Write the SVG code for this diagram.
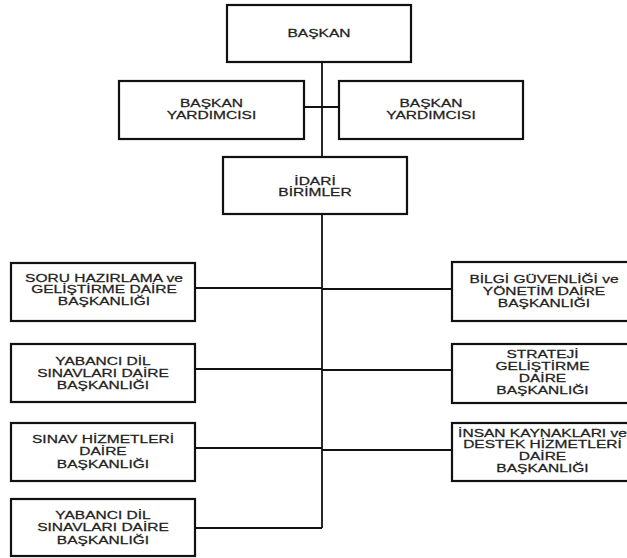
<svg xmlns="http://www.w3.org/2000/svg" width="627" height="558" viewBox="0 0 627 558">
<style>
.box{fill:#fff;stroke:#111;stroke-width:2.2}
.lbl{font-family:"Liberation Sans",Arial,sans-serif;font-size:11.5px;fill:#222;stroke:#222;stroke-width:0.25;text-anchor:middle}
.con{stroke:#111;stroke-width:1.8;fill:none}
</style>
<rect width="627" height="558" fill="#fff"/>
<g id="connectors">
<line class="con" x1="322" y1="62" x2="322" y2="528"/>
<line class="con" x1="304" y1="107" x2="339" y2="107"/>
<line class="con" x1="195" y1="288" x2="322" y2="288"/>
<line class="con" x1="195" y1="369" x2="322" y2="369"/>
<line class="con" x1="195" y1="448" x2="322" y2="448"/>
<line class="con" x1="195" y1="528" x2="322" y2="528"/>
<line class="con" x1="322" y1="289" x2="452" y2="289"/>
<line class="con" x1="322" y1="370" x2="452" y2="370"/>
<line class="con" x1="322" y1="450" x2="452" y2="450"/>
</g>
<g id="baskan">
<rect class="box" x="227" y="5" width="184" height="57"/>
<text class="lbl" transform="translate(319,0) scale(1.35,1)"><tspan x="0" y="37">BAŞKAN</tspan></text>
</g>
<g id="yardimci1">
<rect class="box" x="119" y="81" width="185" height="58"/>
<text class="lbl" transform="translate(211.5,0) scale(1.35,1)"><tspan x="0" y="107">BAŞKAN</tspan><tspan x="0" y="119">YARDIMCISI</tspan></text>
</g>
<g id="yardimci2">
<rect class="box" x="339" y="81" width="184" height="58"/>
<text class="lbl" transform="translate(431,0) scale(1.35,1)"><tspan x="0" y="107">BAŞKAN</tspan><tspan x="0" y="119">YARDIMCISI</tspan></text>
</g>
<g id="idari">
<rect class="box" x="223" y="157" width="184" height="57"/>
<text class="lbl" transform="translate(315,0) scale(1.35,1)"><tspan x="0" y="185">İDARİ</tspan><tspan x="0" y="196.5">BİRİMLER</tspan></text>
</g>
<g id="soru">
<rect class="box" x="11" y="263" width="184" height="58"/>
<text class="lbl" transform="translate(104,0) scale(1.35,1)"><tspan x="0" y="282">SORU HAZIRLAMA ve</tspan><tspan x="0" y="293.5">GELİŞTİRME DAİRE</tspan><tspan x="0" y="305">BAŞKANLIĞI</tspan></text>
</g>
<g id="yabanci1">
<rect class="box" x="11" y="344" width="184" height="58"/>
<text class="lbl" transform="translate(103,0) scale(1.35,1)"><tspan x="0" y="365">YABANCI DİL</tspan><tspan x="0" y="377">SINAVLARI DAİRE</tspan><tspan x="0" y="389">BAŞKANLIĞI</tspan></text>
</g>
<g id="sinav">
<rect class="box" x="11" y="423" width="184" height="58"/>
<text class="lbl" transform="translate(103,0) scale(1.35,1)"><tspan x="0" y="443.5">SINAV HİZMETLERİ</tspan><tspan x="0" y="455.5">DAİRE</tspan><tspan x="0" y="468">BAŞKANLIĞI</tspan></text>
</g>
<g id="yabanci2">
<rect class="box" x="11" y="499" width="184" height="57"/>
<text class="lbl" transform="translate(103,0) scale(1.35,1)"><tspan x="0" y="519">YABANCI DİL</tspan><tspan x="0" y="531.5">SINAVLARI DAİRE</tspan><tspan x="0" y="544">BAŞKANLIĞI</tspan></text>
</g>
<g id="bilgi">
<rect class="box" x="452" y="262" width="185" height="59"/>
<text class="lbl" transform="translate(544,0) scale(1.35,1)"><tspan x="0" y="283">BİLGİ GÜVENLİĞİ ve</tspan><tspan x="0" y="295">YÖNETİM DAİRE</tspan><tspan x="0" y="307">BAŞKANLIĞI</tspan></text>
</g>
<g id="strateji">
<rect class="box" x="452" y="344" width="185" height="59"/>
<text class="lbl" transform="translate(542.5,0) scale(1.35,1)"><tspan x="0" y="358.5">STRATEJİ</tspan><tspan x="0" y="370.5">GELİŞTİRME</tspan><tspan x="0" y="382">DAİRE</tspan><tspan x="0" y="394.5">BAŞKANLIĞI</tspan></text>
</g>
<g id="insan">
<rect class="box" x="452" y="423" width="185" height="58"/>
<text class="lbl" transform="translate(542.5,0) scale(1.35,1)"><tspan x="0" y="437">İNSAN KAYNAKLARI ve</tspan><tspan x="0" y="448.5">DESTEK HİZMETLERİ</tspan><tspan x="0" y="460">DAİRE</tspan><tspan x="0" y="472.5">BAŞKANLIĞI</tspan></text>
</g>
</svg>
